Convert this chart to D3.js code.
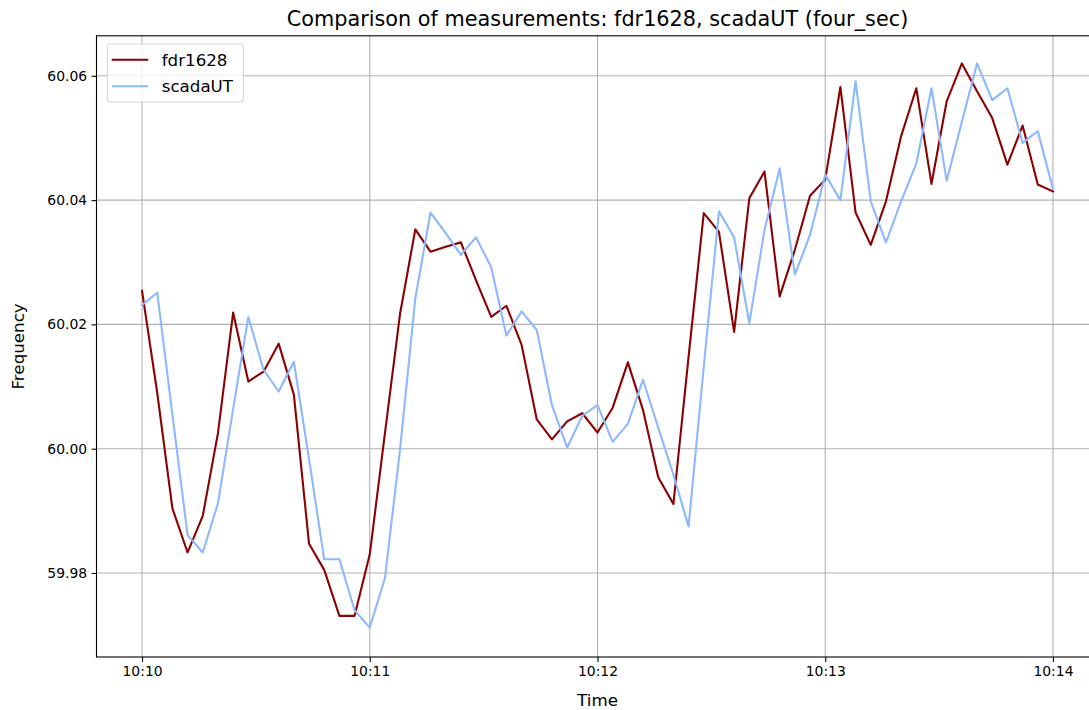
<!DOCTYPE html>
<html>
<head>
<meta charset="utf-8">
<script src="https://cdn.jsdelivr.net/npm/d3@7"></script>
<style>
  html, body { margin: 0; padding: 0; background: #fff; }
  svg { display: block; font-family: "DejaVu Sans", sans-serif; }
</style>
</head>
<body>
<svg id="chart" width="1089" height="710"></svg>
<script>
// ---- data ----
const title = "Comparison of measurements: fdr1628, scadaUT (four_sec)";
const seriesNames = ["fdr1628", "scadaUT"];
const startTime = "2000-01-01T10:10:00";
const stepSeconds = 4;
const fdr1628 = [
  60.0254, 60.0090, 59.9904, 59.9833, 59.9892, 60.0025, 60.0219, 60.0108, 60.0124, 60.0169,
  60.0087, 59.9847, 59.9805, 59.9731, 59.9731, 59.9830, 60.0025, 60.0218, 60.0353, 60.0317,
  60.0325, 60.0332, 60.0271, 60.0212, 60.0230, 60.0167, 60.0047, 60.0015, 60.0044, 60.0057,
  60.0026, 60.0066, 60.0139, 60.0062, 59.9954, 59.9911, 60.0148, 60.0379, 60.0349, 60.0188,
  60.0403, 60.0446, 60.0245, 60.0320, 60.0407, 60.0433, 60.0582, 60.0380, 60.0328, 60.0398,
  60.0503, 60.0580, 60.0426, 60.0559, 60.0620, 60.0575, 60.0532, 60.0457, 60.0520, 60.0425,
  60.0414
];
const scadaUT = [
  60.0231, 60.0251, 60.0055, 59.9861, 59.9833, 59.9912, 60.0064, 60.0212, 60.0127, 60.0092,
  60.0140, 59.9983, 59.9822, 59.9822, 59.9740, 59.9712, 59.9792, 60.0000, 60.0242, 60.0380,
  60.0347, 60.0312, 60.0340, 60.0292, 60.0182, 60.0221, 60.0191, 60.0070, 60.0002, 60.0053,
  60.0070, 60.0011, 60.0040, 60.0111, 60.0034, 59.9958, 59.9875, 60.0132, 60.0382, 60.0340,
  60.0202, 60.0352, 60.0451, 60.0280, 60.0344, 60.0441, 60.0400, 60.0591, 60.0398, 60.0332,
  60.0398, 60.0459, 60.0580, 60.0431, 60.0526, 60.0620, 60.0561, 60.0580, 60.0492, 60.0511,
  60.0418
];
const yTicks = [59.98, 60.00, 60.02, 60.04, 60.06];
const xTickLabels = ["10:10", "10:11", "10:12", "10:13", "10:14"];
const colors = ["#8b0000", "#8cb8ff"];

// ---- layout ----
const svg = d3.select("#chart");
const plotL = 96.5, plotR = 1098.5, plotT = 35.8, plotB = 657;
const t0 = new Date(startTime);
const times = fdr1628.map((_, i) => new Date(t0.getTime() + i * stepSeconds * 1000));
const tMin = times[0], tMax = times[times.length - 1];
const pad = (tMax - tMin) * 0.05;

const x = d3.scaleTime()
  .domain([new Date(+tMin - pad), new Date(+tMax + pad)])
  .range([plotL, plotR]);
const y = d3.scaleLinear()
  .domain([59.96648, 60.06644])
  .range([plotB, plotT]);

const xTickDates = xTickLabels.map(s => new Date("2000-01-01T" + s + ":00"));

// grid
const grid = svg.append("g");
grid.selectAll("line.vx").data(xTickDates).enter().append("line")
  .attr("x1", d => x(d)).attr("x2", d => x(d))
  .attr("y1", plotT).attr("y2", plotB)
  .attr("stroke", "#b0b0b0").attr("stroke-width", 1.1);
grid.selectAll("line.hy").data(yTicks).enter().append("line")
  .attr("x1", plotL).attr("x2", plotR)
  .attr("y1", d => y(d)).attr("y2", d => y(d))
  .attr("stroke", "#b0b0b0").attr("stroke-width", 1.1);

// clip
svg.append("clipPath").attr("id", "clip").append("rect")
  .attr("x", plotL).attr("y", plotT).attr("width", plotR - plotL).attr("height", plotB - plotT);

// lines
const line = d3.line().x((d, i) => x(times[i])).y(d => y(d));
[fdr1628, scadaUT].forEach((s, k) => {
  svg.append("path").datum(s)
    .attr("clip-path", "url(#clip)")
    .attr("fill", "none")
    .attr("stroke", colors[k])
    .attr("stroke-width", 2.1)
    .attr("stroke-linejoin", "round")
    .attr("stroke-linecap", "square")
    .attr("d", line);
});

// axes
const xAxis = d3.axisBottom(x).tickValues(xTickDates).tickFormat(d3.timeFormat("%H:%M"))
  .tickSizeOuter(0).tickSize(4.9).tickPadding(4);
const yAxis = d3.axisLeft(y).tickValues(yTicks).tickFormat(d3.format(".2f"))
  .tickSizeOuter(0).tickSize(4.9).tickPadding(4.5);

const gx = svg.append("g").attr("transform", `translate(0,${plotB})`).call(xAxis);
const gy = svg.append("g").attr("transform", `translate(${plotL},0)`).call(yAxis);
[gx, gy].forEach(g => {
  g.select(".domain").remove();
  g.selectAll(".tick line").attr("stroke", "#000").attr("stroke-width", 1.1);
  g.selectAll(".tick text").attr("fill", "#000")
    .style("font-family", "'DejaVu Sans', sans-serif").style("font-size", "13.9px");
});

// spines
svg.append("rect").attr("x", plotL).attr("y", plotT)
  .attr("width", plotR - plotL).attr("height", plotB - plotT)
  .attr("fill", "none").attr("stroke", "#000").attr("stroke-width", 1.1);

// title and labels
svg.append("text").attr("x", (plotL + plotR) / 2).attr("y", 26)
  .attr("text-anchor", "middle").style("font-size", "20.8px").attr("fill", "#000")
  .text(title);
svg.append("text").attr("x", (plotL + plotR) / 2).attr("y", 706)
  .attr("text-anchor", "middle").style("font-size", "16.7px").attr("fill", "#000")
  .text("Time");
svg.append("text")
  .attr("transform", `translate(24,${(plotT + plotB) / 2}) rotate(-90)`)
  .attr("text-anchor", "middle").style("font-size", "16.7px").attr("fill", "#000")
  .text("Frequency");

// legend
const lg = svg.append("g");
lg.append("rect").attr("x", 107.3).attr("y", 44).attr("width", 136).attr("height", 58)
  .attr("rx", 3).attr("fill", "#fff").attr("fill-opacity", 0.8)
  .attr("stroke", "#cccccc").attr("stroke-opacity", 0.8).attr("stroke-width", 1.1);
seriesNames.forEach((name, k) => {
  const yy = 59.7 + k * 26.6;
  lg.append("line").attr("x1", 111.7).attr("x2", 148.3).attr("y1", yy).attr("y2", yy)
    .attr("stroke", colors[k]).attr("stroke-width", 2.1);
  lg.append("text").attr("x", 161.7).attr("y", yy).attr("dy", "0.36em")
    .style("font-size", "16.7px").attr("fill", "#000").text(name);
});
</script>
</body>
</html>
